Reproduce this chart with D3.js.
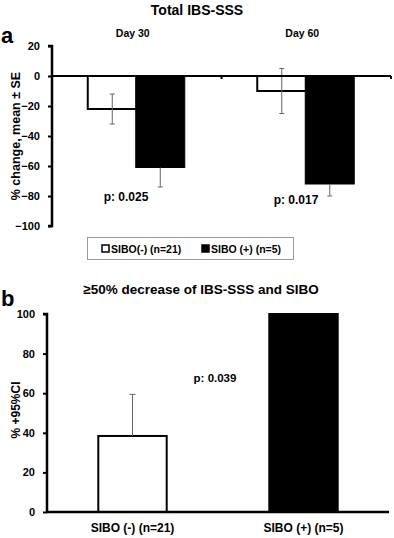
<!DOCTYPE html>
<html lang="en">
<head>
  <meta charset="UTF-8">
  <title>IBS-SSS and SIBO</title>
  <style>
    * { box-sizing: border-box; }
    body { margin: 0; background: #fff; }
    #main { width: 394px; height: 538px; }
    text { font-family: "Liberation Sans", Arial, sans-serif; font-weight: bold; fill: #000; }
  </style>
</head>
<body>
  <div id="main"></div>
  <script src="https://d3js.org/d3.v7.min.js"></script>
  <script>
    // panel a: change of total IBS-SSS
    const days = ['Day 30', 'Day 60']
    const groups = ['SIBO(-) (n=21)', 'SIBO (+) (n=5)']
    const negMean = [-22, -10]
    const negSE = [10, 15]
    const posMean = [-61, -72]
    const posSE = [13, 8]
    const pA = ['p: 0.025', 'p: 0.017']
    const ticksA = [20, 0, -20, -40, -60, -80, -100]

    // panel b: >=50% decrease
    const bCats = ['SIBO (-) (n=21)', 'SIBO (+) (n=5)']
    const bValues = [38.4, 100]
    const bCI = [21, 0]
    const pB = 'p: 0.039'
    const ticksB = [0, 20, 40, 60, 80, 100]

    const [width, height] = [394, 538]
    const svg = d3.select('#main').append('svg')
      .attr('width', width)
      .attr('height', height)
      .attr('viewBox', `0 0 ${width} ${height}`)

    // ---------- panel a ----------
    svg.append('text').attr('x', 197).attr('y', 15).attr('text-anchor', 'middle')
      .style('font-size', '14px').text('Total IBS-SSS')
    svg.append('text').attr('x', 1).attr('y', 43).style('font-size', '22px').text('a')

    const xA = d3.scaleBand().domain(days).range([52, 391])
    const yA = d3.scaleLinear().domain([-100, 20]).range([226, 46])

    const gA = svg.append('g')

    // day labels
    gA.selectAll('.day').data(days).join('text')
      .attr('x', d => xA(d) + xA.bandwidth() / 2 - 4)
      .attr('y', 37)
      .attr('text-anchor', 'middle')
      .style('font-size', '10.5px')
      .text(d => d)

    const barW = 49
    const offs = [-48, 0]
    // white bars
    gA.selectAll('.neg').data(days).join('rect')
      .attr('x', (d, i) => xA(d) + xA.bandwidth() / 2 + offs[0] - 1)
      .attr('y', yA(0))
      .attr('width', barW)
      .attr('height', (d, i) => yA(negMean[i]) - yA(0))
      .attr('fill', '#fff').attr('stroke', '#000').attr('stroke-width', 2)
    // black bars
    gA.selectAll('.pos').data(days).join('rect')
      .attr('x', (d, i) => xA(d) + xA.bandwidth() / 2 + offs[1] - 1)
      .attr('y', yA(0))
      .attr('width', barW)
      .attr('height', (d, i) => yA(posMean[i]) - yA(0))
      .attr('fill', '#000').attr('stroke', '#000').attr('stroke-width', 1)

    // error bars
    const errA = []
    days.forEach((d, i) => {
      const c = xA(d) + xA.bandwidth() / 2
      errA.push({ x: c + offs[0] - 1 + barW / 2, lo: negMean[i] - negSE[i], hi: negMean[i] + negSE[i] })
      errA.push({ x: c + offs[1] - 1 + barW / 2, lo: posMean[i] - posSE[i], hi: posMean[i] })
    })
    const eg = gA.selectAll('.err').data(errA).join('g').attr('stroke', '#666').attr('stroke-width', 1)
    eg.append('line').attr('x1', d => d.x).attr('x2', d => d.x).attr('y1', d => yA(d.lo)).attr('y2', d => yA(d.hi))
    eg.append('line').attr('x1', d => d.x - 2.5).attr('x2', d => d.x + 2.5).attr('y1', d => yA(d.lo)).attr('y2', d => yA(d.lo))
    eg.filter((d, i) => i % 2 === 0).append('line')
      .attr('x1', d => d.x - 2.5).attr('x2', d => d.x + 2.5).attr('y1', d => yA(d.hi)).attr('y2', d => yA(d.hi))

    // zero line with category ticks
    gA.append('line').attr('x1', 52).attr('x2', 391).attr('y1', yA(0)).attr('y2', yA(0))
      .attr('stroke', '#000').attr('stroke-width', 2)
    gA.selectAll('.ct').data([xA(days[1]), 391]).join('line')
      .attr('x1', d => d).attr('x2', d => d).attr('y1', yA(0)).attr('y2', yA(0) + 3)
      .attr('stroke', '#000').attr('stroke-width', 2)

    // y axis
    const axA = gA.append('g').attr('transform', 'translate(52,0)')
      .call(d3.axisLeft(yA).tickValues(ticksA).tickSize(4).tickPadding(8))
    axA.select('.domain').attr('stroke-width', 2.5).attr('d', `M-4,${yA(20)}H0V${yA(-100)}H-4`)
    axA.selectAll('.tick line').attr('stroke-width', 2)
    axA.selectAll('.tick text').attr('font-size', 11).attr('font-family', '"Liberation Sans", Arial, sans-serif').attr('font-weight', 'bold')
      .style('font-size', '11px').style('font-weight', 'bold')

    svg.append('text').attr('transform', `translate(20,${yA(-40)}) rotate(-90)`)
      .attr('text-anchor', 'middle').style('font-size', '12.5px').text('% change, mean ± SE')

    // p values
    gA.selectAll('.p').data(pA).join('text')
      .attr('x', (d, i) => [126, 296][i])
      .attr('y', (d, i) => [201, 204][i])
      .attr('text-anchor', 'middle')
      .style('font-size', '12px')
      .text(d => d)

    // legend
    const lg = svg.append('g')
    lg.append('rect').attr('x', 87.5).attr('y', 237.5).attr('width', 206).attr('height', 22)
      .attr('fill', '#fff').attr('stroke', '#999').attr('stroke-width', 1)
    const legX = [102, 202]
    lg.selectAll('.lsq').data(groups).join('rect')
      .attr('x', (d, i) => legX[i]).attr('y', 245)
      .attr('width', 7).attr('height', 7)
      .attr('fill', (d, i) => i ? '#000' : '#fff')
      .attr('stroke', '#000').attr('stroke-width', 1.5)
    lg.selectAll('.ltx').data(groups).join('text')
      .attr('x', (d, i) => legX[i] + 9).attr('y', 252.5)
      .style('font-size', '10.5px')
      .text(d => d)

    // ---------- panel b ----------
    svg.append('text').attr('x', 1).attr('y', 306).style('font-size', '22px').text('b')
    svg.append('text').attr('x', 201).attr('y', 294).attr('text-anchor', 'middle')
      .style('font-size', '13.5px').text('≥50% decrease of IBS-SSS and SIBO')

    const xB = d3.scaleBand().domain(bCats).range([47, 389]).paddingInner(0.6).paddingOuter(0.3)
    const yB = d3.scaleLinear().domain([0, 100]).range([512, 314])
    const gB = svg.append('g')

    gB.selectAll('.bb').data(bCats).join('rect')
      .attr('x', d => xB(d))
      .attr('y', (d, i) => yB(bValues[i]))
      .attr('width', xB.bandwidth())
      .attr('height', (d, i) => yB(0) - yB(bValues[i]))
      .attr('fill', (d, i) => i ? '#000' : '#fff')
      .attr('stroke', '#000').attr('stroke-width', 2)

    const eb = gB.selectAll('.eb').data(bCats.filter((d, i) => bCI[i] > 0)).join('g')
      .attr('stroke', '#666').attr('stroke-width', 1)
    eb.append('line')
      .attr('x1', d => xB(d) + xB.bandwidth() / 2).attr('x2', d => xB(d) + xB.bandwidth() / 2)
      .attr('y1', d => yB(bValues[bCats.indexOf(d)])).attr('y2', d => yB(bValues[bCats.indexOf(d)] + bCI[bCats.indexOf(d)]))
    eb.append('line')
      .attr('x1', d => xB(d) + xB.bandwidth() / 2 - 3).attr('x2', d => xB(d) + xB.bandwidth() / 2 + 3)
      .attr('y1', d => yB(bValues[bCats.indexOf(d)] + bCI[bCats.indexOf(d)]))
      .attr('y2', d => yB(bValues[bCats.indexOf(d)] + bCI[bCats.indexOf(d)]))

    gB.append('line').attr('x1', 47).attr('x2', 389).attr('y1', yB(0)).attr('y2', yB(0))
      .attr('stroke', '#000').attr('stroke-width', 2.5)

    const axB = gB.append('g').attr('transform', 'translate(47,0)')
      .call(d3.axisLeft(yB).tickValues(ticksB).tickSize(4).tickPadding(8))
    axB.select('.domain').attr('stroke-width', 2.5).attr('d', `M-4,${yB(100)}H0V${yB(0)}`)
    axB.selectAll('.tick line').attr('stroke-width', 2)
    axB.selectAll('.tick text').attr('font-size', 11).attr('font-family', '"Liberation Sans", Arial, sans-serif').attr('font-weight', 'bold')
      .style('font-size', '11px').style('font-weight', 'bold')

    gB.selectAll('.xl').data(bCats).join('text')
      .attr('x', d => xB(d) + xB.bandwidth() / 2)
      .attr('y', 532)
      .attr('text-anchor', 'middle')
      .style('font-size', '12px')
      .text(d => d)

    svg.append('text').attr('transform', `translate(20,410) rotate(-90)`)
      .attr('text-anchor', 'middle').style('font-size', '12px').text('% +95%CI')

    gB.append('text').attr('x', 215).attr('y', 382).attr('text-anchor', 'middle')
      .style('font-size', '11.5px').text(pB)
  </script>
</body>
</html>
